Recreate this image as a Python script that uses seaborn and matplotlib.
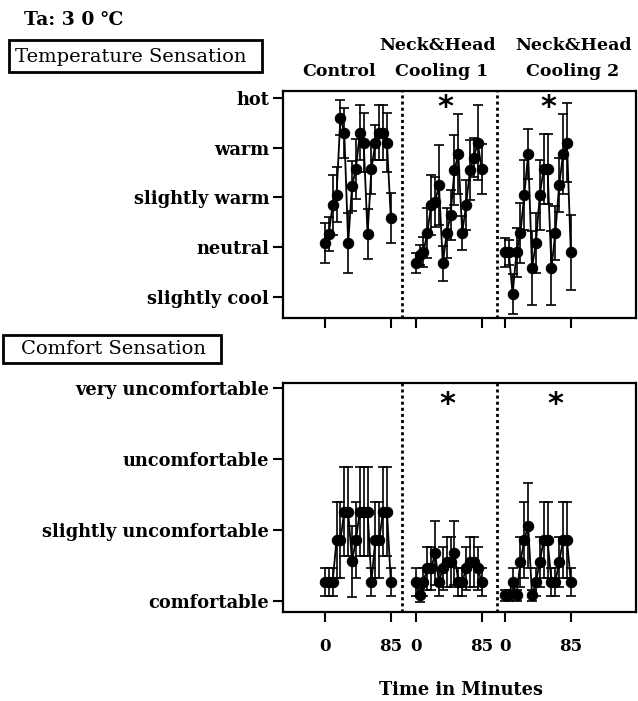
import numpy as np
import pandas as pd
import matplotlib
matplotlib.use("Agg")
import matplotlib.pyplot as plt
from matplotlib.patches import Rectangle
import seaborn as sns

# ---------------- data ----------------
times = [0, 5, 10, 15, 20, 25, 30, 35, 40, 45, 50, 55, 60, 65, 70, 75, 80, 85]
conditions = ["Control", "Neck&Head\nCooling 1", "Neck&Head\nCooling 2"]
cond_offsets = [0, 117, 232]          # horizontal placement of each condition block (minutes)

temp_labels = ["slightly cool", "neutral", "slightly warm", "warm", "hot"]
temp_levels = [-1, 0, 1, 2, 3]
comfort_labels = ["comfortable", "slightly uncomfortable", "uncomfortable", "very uncomfortable"]
comfort_levels = [0, 1, 2, 3]

temp_control = [0.08, 0.26, 0.85, 1.05, 2.6, 2.3, 0.08, 1.23, 1.57, 2.3, 2.1, 0.26, 1.57, 2.1, 2.3, 2.3, 2.1, 0.58]
temp_control_err = [0.4, 0.35, 0.6, 0.55, 0.35, 0.5, 0.6, 0.5, 0.6, 0.55, 0.6, 0.5, 0.5, 0.35, 0.55, 0.55, 0.6, 0.5]
temp_cool1 = [-0.33, -0.16, -0.1, 0.28, 0.85, 0.9, 1.25, -0.33, 0.28, 0.65, 1.55, 1.87, 0.28, 0.85, 1.55, 1.8, 2.1, 1.57]
temp_cool1_err = [0.2, 0.2, 0.3, 0.5, 0.6, 0.5, 0.8, 0.35, 0.5, 0.5, 0.7, 0.8, 0.35, 0.5, 0.6, 0.4, 0.75, 0.5]
temp_cool2 = [-0.11, -0.11, -0.95, -0.11, 0.28, 1.05, 1.87, -0.42, 0.08, 1.05, 1.57, 1.57, -0.42, 0.28, 1.25, 1.87, 2.1, -0.11]
temp_cool2_err = [0.3, 0.25, 0.4, 0.5, 0.6, 0.7, 0.5, 0.75, 0.6, 0.7, 0.7, 0.7, 0.75, 0.55, 0.55, 0.8, 0.8, 0.75]

comf_control = [0.27, 0.27, 0.27, 0.86, 0.86, 1.26, 1.26, 0.56, 0.86, 1.26, 1.26, 1.26, 0.27, 0.86, 0.86, 1.26, 1.26, 0.27]
comf_control_err = [0.2, 0.2, 0.2, 0.53, 0.53, 0.62, 0.62, 0.5, 0.53, 0.62, 0.62, 0.62, 0.2, 0.53, 0.53, 0.62, 0.62, 0.2]
comf_cool1 = [0.27, 0.08, 0.27, 0.46, 0.46, 0.67, 0.27, 0.46, 0.55, 0.55, 0.67, 0.27, 0.27, 0.46, 0.55, 0.55, 0.46, 0.27]
comf_cool1_err = [0.2, 0.1, 0.2, 0.3, 0.3, 0.45, 0.2, 0.3, 0.35, 0.35, 0.45, 0.2, 0.2, 0.3, 0.35, 0.35, 0.3, 0.2]
comf_cool2 = [0.08, 0.08, 0.27, 0.08, 0.55, 0.86, 1.06, 0.08, 0.27, 0.55, 0.86, 0.86, 0.27, 0.27, 0.55, 0.86, 0.86, 0.27]
comf_cool2_err = [0.08, 0.08, 0.2, 0.08, 0.35, 0.53, 0.6, 0.08, 0.2, 0.35, 0.53, 0.53, 0.2, 0.2, 0.35, 0.53, 0.53, 0.2]

xtick_labels = ["0", "85"]

# ---------------- figure ----------------
sns.set_style("ticks")
plt.rcParams["font.family"] = ["DejaVu Serif"]
plt.rcParams["text.color"] = "black"
plt.rcParams["axes.labelcolor"] = "black"
plt.rcParams["xtick.color"] = "black"
plt.rcParams["ytick.color"] = "black"
W, H = 638, 701
fig = plt.figure(figsize=(W / 100, H / 100), dpi=100)

def fx(px):
    return px / W

def fy(py):
    return 1 - py / H

ax_t = fig.add_axes([fx(283), fy(318), fx(636) - fx(283), fy(91) - fy(318)])
ax_b = fig.add_axes([fx(283), fy(612), fx(636) - fx(283), fy(383) - fy(612)])

def build(series, errs):
    rows = []
    for ci, (vals, ers) in enumerate(zip(series, errs)):
        for t, v, e in zip(times, vals, ers):
            rows.append({"x": t + cond_offsets[ci], "val": v, "err": e, "cond": conditions[ci]})
    return pd.DataFrame(rows)

df_t = build([temp_control, temp_cool1, temp_cool2], [temp_control_err, temp_cool1_err, temp_cool2_err])
df_b = build([comf_control, comf_cool1, comf_cool2], [comf_control_err, comf_cool1_err, comf_cool2_err])

bold = dict(fontweight="bold", family="DejaVu Serif", color="black")

for ax, df, levels, labels, ylim in [
    (ax_t, df_t, temp_levels, temp_labels, (-1.43, 3.14)),
    (ax_b, df_b, comfort_levels, comfort_labels, (-0.155, 3.07)),
]:
    ax.errorbar(df["x"], df["val"], yerr=df["err"], fmt="none", ecolor="black",
                elinewidth=1.2, capsize=3.8, capthick=1.2, zorder=2)
    sns.lineplot(data=df, x="x", y="val", units="cond", estimator=None, sort=False,
                 color="black", linewidth=1.3, marker="o", markersize=7.5,
                 markeredgecolor="black", markerfacecolor="black", ax=ax, zorder=3, legend=False)
    ax.set_xlim(-54, 401)
    ax.set_ylim(*ylim)
    ax.set_yticks(levels)
    ax.set_yticklabels(labels, fontsize=12.8, **bold)
    xt = [o + t for o in cond_offsets for t in (0, 85)]
    ax.set_xticks(xt)
    ax.set_xlabel("")
    ax.set_ylabel("")
    for d in (99, 222):
        ax.axvline(d, color="black", linestyle=(0, (1.1, 1.1)), linewidth=2.0, zorder=1)
    for s in ax.spines.values():
        s.set_linewidth(1.6)
        s.set_color("black")
    ax.tick_params(axis="both", direction="out", length=7, width=1.5, colors="black")
    ax.tick_params(axis="y", pad=3)

ax_t.set_xticklabels([])
ax_b.set_xticklabels(xtick_labels * 3, fontsize=12, **bold)
ax_b.tick_params(axis="x", pad=12)

# asterisks (significance marks)
for (px, py) in [(445, 108), (548, 108), (447, 405), (555, 405)]:
    fig.text(fx(px), fy(py), "*", ha="center", va="center", fontsize=22, fontweight="bold",
             family="DejaVu Sans", color="black")

# texts
fig.text(fx(24), fy(20), "Ta: 3 0 ℃", ha="left", va="center", fontsize=13.5, **bold)

fig.patches.append(Rectangle((fx(9), fy(72)), fx(262) - fx(9), fy(40) - fy(72),
                             transform=fig.transFigure, facecolor="none",
                             edgecolor="black", linewidth=2.0))
fig.text(fx(15), fy(57), "Temperature Sensation", ha="left", va="center", fontsize=14,
         family="DejaVu Serif", color="black")
fig.patches.append(Rectangle((fx(3), fy(363)), fx(221) - fx(3), fy(335) - fy(363),
                             transform=fig.transFigure, facecolor="none",
                             edgecolor="black", linewidth=2.0))
fig.text(fx(21), fy(349), "Comfort Sensation", ha="left", va="center", fontsize=14,
         family="DejaVu Serif", color="black")

fig.text(fx(339), fy(72), "Control", ha="center", va="center", fontsize=12.5, **bold)
fig.text(fx(438), fy(46), "Neck&Head", ha="center", va="center", fontsize=12.5, **bold)
fig.text(fx(442), fy(72), "Cooling 1", ha="center", va="center", fontsize=12.5, **bold)
fig.text(fx(574), fy(46), "Neck&Head", ha="center", va="center", fontsize=12.5, **bold)
fig.text(fx(573), fy(72), "Cooling 2", ha="center", va="center", fontsize=12.5, **bold)
fig.text(fx(461), fy(690), "Time in Minutes", ha="center", va="center", fontsize=12.8, **bold)

fig.savefig("out.png", dpi=100, facecolor="white")
